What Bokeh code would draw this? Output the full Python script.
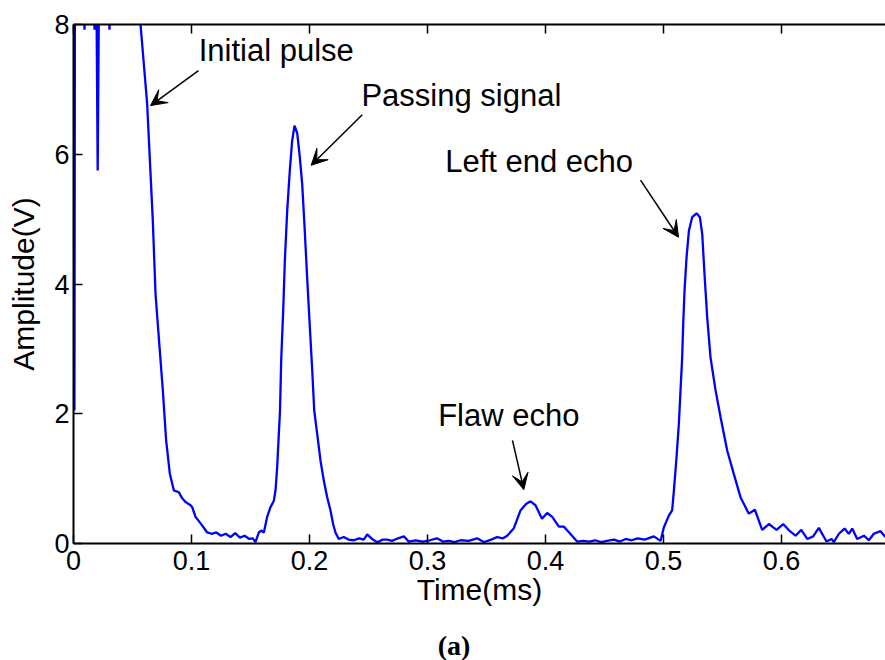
from bokeh.plotting import figure
from bokeh.layouts import column
from bokeh.models import (Range1d, LinearAxis, FixedTicker, Label, Arrow, VeeHead,
                          CustomJSTickFormatter)
from bokeh.embed import file_html
from bokeh.resources import INLINE

# ---------------- data ----------------
# initial pulse (clipped at the top of the axis, values above 8 are off-scale)
t_initial = [0.0008, 0.0012, 0.0088, 0.0093, 0.0098, 0.0173, 0.0178, 0.0183,
             0.0195, 0.0205, 0.0215, 0.0300, 0.0305, 0.0310, 0.0550, 0.0568,
             0.0624, 0.0672, 0.0695, 0.0714, 0.0757, 0.0785, 0.0816, 0.0850,
             0.0893, 0.0920, 0.0949, 0.0992, 0.1006, 0.1034, 0.1090, 0.1133]
a_initial = [2.05, 8.3, 8.3, 7.92, 8.3, 8.3, 7.92, 8.3,
             8.3, 5.75, 8.3, 8.3, 7.92, 8.3, 8.3, 8.0,
             6.78, 4.98, 3.85, 3.39, 2.36, 1.59, 1.08, 0.82,
             0.79, 0.70, 0.64, 0.59, 0.56, 0.41, 0.28, 0.17]

# tail of the initial pulse and passing signal
t_passing = [0.117, 0.121, 0.125, 0.129, 0.133, 0.137, 0.141, 0.145, 0.149, 0.152,
             0.1542, 0.1571, 0.1591, 0.1613, 0.1641, 0.1669, 0.1698, 0.1712, 0.1726,
             0.1740, 0.1750, 0.1760, 0.1777, 0.1791, 0.1811, 0.1833, 0.1853, 0.1873,
             0.1896, 0.1918, 0.1938, 0.1958, 0.1980, 0.2003, 0.2023, 0.2040, 0.2065,
             0.2093, 0.2121, 0.2150, 0.2178, 0.2200, 0.2220, 0.2248]
a_passing = [0.15, 0.17, 0.12, 0.15, 0.10, 0.16, 0.09, 0.12, 0.07, 0.08,
             0.02, 0.17, 0.20, 0.17, 0.41, 0.56, 0.66, 0.82, 1.18,
             1.69, 2.05, 2.82, 3.59, 4.36, 5.13, 5.75, 6.21, 6.44,
             6.32, 5.95, 5.54, 4.88, 4.10, 3.33, 2.67, 2.05, 1.69,
             1.28, 0.97, 0.71, 0.51, 0.30, 0.17, 0.07]

# baseline noise and flaw echo
t_flaw = [0.229, 0.233, 0.2376, 0.242, 0.246, 0.2489, 0.253, 0.2574, 0.262, 0.2658,
          0.270, 0.275, 0.280, 0.284, 0.290, 0.296, 0.302, 0.308, 0.313, 0.318,
          0.323, 0.328, 0.335, 0.342, 0.348, 0.354, 0.359, 0.364, 0.3675, 0.373,
          0.3788, 0.3835, 0.3873, 0.3915, 0.397, 0.4014, 0.4057, 0.4113, 0.4155,
          0.420, 0.4268, 0.432, 0.437, 0.442, 0.447, 0.452, 0.458, 0.463, 0.468,
          0.473, 0.478, 0.484, 0.4918, 0.4975]
a_flaw = [0.10, 0.06, 0.05, 0.08, 0.06, 0.14, 0.07, 0.02, 0.06, 0.06,
          0.04, 0.08, 0.11, 0.03, 0.05, 0.03, 0.05, 0.08, 0.03, 0.04,
          0.02, 0.05, 0.04, 0.08, 0.02, 0.06, 0.10, 0.08, 0.12, 0.23,
          0.51, 0.61, 0.65, 0.59, 0.38, 0.47, 0.41, 0.26, 0.26,
          0.17, 0.03, 0.04, 0.03, 0.05, 0.02, 0.04, 0.06, 0.03, 0.07,
          0.05, 0.08, 0.06, 0.11, 0.04]

# left end echo and trailing noise
t_left_end = [0.5003, 0.5045, 0.5073, 0.5088, 0.5110, 0.5130, 0.5144, 0.5158, 0.5167,
              0.5178, 0.5195, 0.5215, 0.5243, 0.5280, 0.5308, 0.5328, 0.5347, 0.5370,
              0.5398, 0.5441, 0.5483, 0.5540, 0.5596, 0.5653, 0.5723, 0.5774,
              0.5836, 0.5893, 0.5958, 0.6014, 0.6065, 0.6119, 0.6167, 0.6218, 0.6268,
              0.6316, 0.6381, 0.6424, 0.6443, 0.6486, 0.6534, 0.657, 0.6599, 0.6641,
              0.6698, 0.674, 0.6782, 0.6839, 0.688]
a_left_end = [0.25, 0.43, 0.51, 0.82, 1.33, 1.85, 2.36, 2.87, 3.39,
              3.90, 4.41, 4.82, 5.03, 5.09, 5.03, 4.77, 4.16, 3.49,
              2.87, 2.36, 1.95, 1.43, 1.07, 0.71, 0.46, 0.52,
              0.21, 0.30, 0.21, 0.30, 0.20, 0.12, 0.21, 0.07, 0.11,
              0.24, 0.03, 0.07, 0.02, 0.15, 0.23, 0.15, 0.23, 0.07,
              0.12, 0.05, 0.15, 0.19, 0.10]

time_ms = t_initial + t_passing + t_flaw + t_left_end
amplitude_v = a_initial + a_passing + a_flaw + a_left_end

x_ticks = [0, 0.1, 0.2, 0.3, 0.4, 0.5, 0.6]
y_ticks = [0, 2, 4, 6, 8]

# annotations: (text, text x, text y, arrow start x, start y, arrow tip x, tip y)
annotations = [
    ("Initial pulse", 0.1061, 7.60, 0.1059, 7.29, 0.0653, 6.75),
    ("Passing signal", 0.2440, 6.91, 0.2447, 6.61, 0.2014, 5.83),
    ("Left end echo", 0.3150, 5.89, 0.4805, 5.60, 0.5127, 4.72),
    ("Flaw echo", 0.3090, 1.97, 0.3720, 1.59, 0.3816, 0.83),
]
panel_caption = "(a)"
caption_x = 0.3225

FONT = "Liberation Sans"

p = figure(width=885, height=620, x_range=Range1d(0, 0.6881), y_range=Range1d(0, 8),
           output_backend="svg", toolbar_location=None,
           min_border_left=73, min_border_right=0, min_border_top=24, min_border_bottom=77)
p.grid.visible = False
p.outline_line_color = None
p.background_fill_color = "white"
p.border_fill_color = "white"

p.line(time_ms, amplitude_v, line_color="#0000ff", line_width=2.3)

top_axis = LinearAxis()
p.add_layout(top_axis, "above")

fmt = CustomJSTickFormatter(code="return Number(tick.toFixed(2)).toString();")
p.xaxis.ticker = FixedTicker(ticks=x_ticks)
p.yaxis.ticker = FixedTicker(ticks=y_ticks)
p.xaxis.formatter = fmt
p.yaxis.formatter = fmt

for ax in p.xaxis + p.yaxis:
    ax.axis_line_color = "black"
    ax.axis_line_width = 2
    ax.major_tick_line_color = "black"
    ax.major_tick_line_width = 1.5
    ax.major_tick_in = 9
    ax.major_tick_out = 0
    ax.minor_tick_line_color = None
    ax.major_label_text_font = FONT
    ax.major_label_text_font_size = "27px"
    ax.major_label_text_color = "black"
    ax.axis_label_text_font = FONT
    ax.axis_label_text_font_size = "30px"
    ax.axis_label_text_font_style = "normal"
    ax.axis_label_text_color = "black"

bottom_axis = p.below[0]
bottom_axis.major_label_standoff = 7
bottom_axis.axis_label = "Time(ms)"
bottom_axis.axis_label_standoff = 0

left_axis = p.left[0]
left_axis.major_label_standoff = 4
left_axis.axis_label = "Amplitude(V)"
left_axis.axis_label_standoff = 11

top_axis.formatter = CustomJSTickFormatter(code="return '';")
top_axis.major_label_text_font_size = "1px"
top_axis.major_label_standoff = 0

for text, tx, ty, xs, ys, xe, ye in annotations:
    p.add_layout(Label(x=tx, y=ty, text=text, text_font=FONT, text_font_size="31px",
                       text_baseline="alphabetic", text_color="black"))
    p.add_layout(Arrow(end=VeeHead(size=16, fill_color="black", line_color="black"),
                       x_start=xs, y_start=ys, x_end=xe, y_end=ye,
                       line_color="black", line_width=1.5))

# caption strip under the chart, sharing the chart's time scale
cap = figure(width=885, height=40, x_range=p.x_range, y_range=Range1d(0, 40),
             output_backend="svg", toolbar_location=None, x_axis_type=None,
             y_axis_type=None, min_border_left=73, min_border_right=0,
             min_border_top=0, min_border_bottom=0)
cap.grid.visible = False
cap.outline_line_color = None
cap.border_fill_color = "white"
cap.add_layout(Label(x=caption_x, y=15.5, text=panel_caption, text_font="Liberation Serif",
                     text_font_style="bold", text_font_size="28px", text_color="black",
                     text_align="center", text_baseline="middle"))

layout = column(p, cap, spacing=0)
open("out.html", "w").write(file_html(layout, INLINE))
